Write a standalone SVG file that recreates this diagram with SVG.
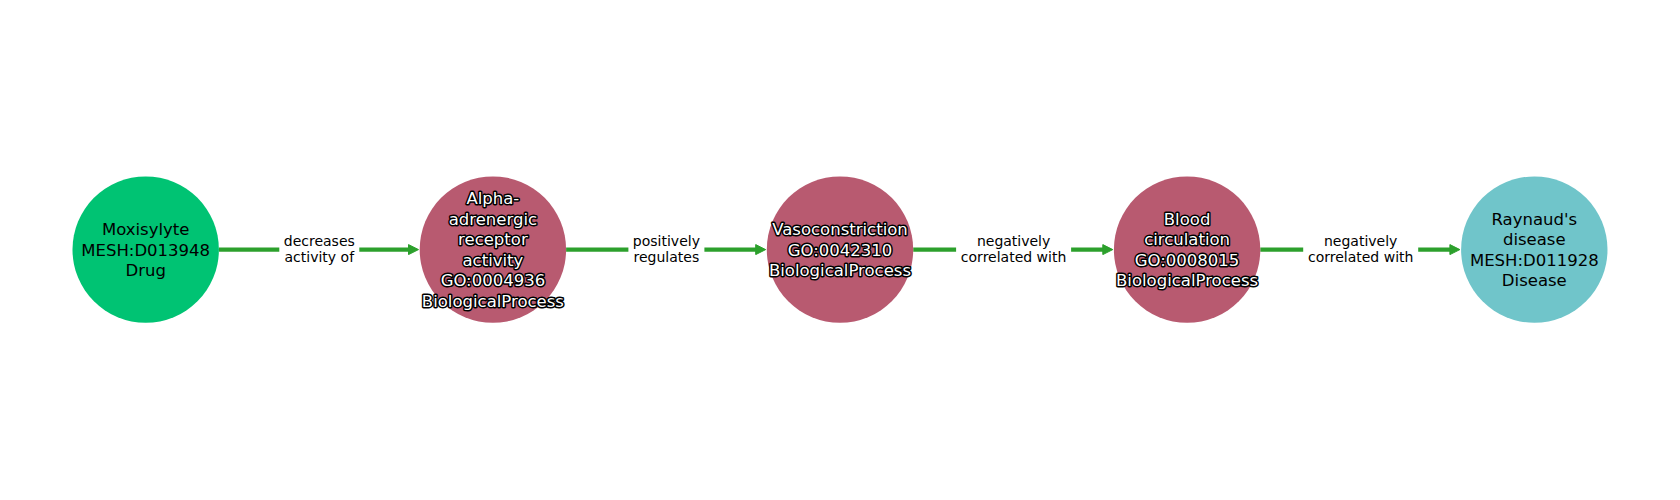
<svg xmlns="http://www.w3.org/2000/svg" width="1680" height="500" viewBox="0 0 1680 500">
<defs>
<style>
.nl{font-family:"DejaVu Sans",sans-serif;font-size:16.5px;text-anchor:middle;fill:#000}
.nw{font-family:"DejaVu Sans",sans-serif;font-size:16.5px;text-anchor:middle;fill:#fff;stroke:#000;stroke-width:3px;stroke-linejoin:round;paint-order:stroke}
.el{font-family:"DejaVu Sans",sans-serif;font-size:14px;text-anchor:middle;fill:#000}
.edge{stroke:#2ca02c;stroke-width:4.3;fill:none}
.bg{fill:#fff}
</style>
<marker id="arr" viewBox="0 0 11 11" refX="5" refY="5.5" markerWidth="11" markerHeight="11" orient="auto" markerUnits="userSpaceOnUse">
<path d="M0.5,0.5 L10.5,5.5 L0.5,10.5 Z" fill="#2ca02c" stroke="#2ca02c" stroke-width="1" stroke-linejoin="round"/>
</marker>
</defs>
<rect width="1680" height="500" fill="#fff"/>
<g id="edges">
<g id="e1"><line class="edge" x1="218.9" y1="249.6" x2="413" y2="249.6" marker-end="url(#arr)"/><rect class="bg" x="279.3" y="232" width="80" height="35"/><text class="el" x="319.3" y="246">decreases</text><text class="el" x="319.3" y="262">activity of</text></g>
<g id="e2"><line class="edge" x1="566.1" y1="249.6" x2="760.2" y2="249.6" marker-end="url(#arr)"/><rect class="bg" x="628.4" y="232" width="76" height="35"/><text class="el" x="666.4" y="246">positively</text><text class="el" x="666.4" y="262">regulates</text></g>
<g id="e3"><line class="edge" x1="913.2" y1="249.6" x2="1107.3" y2="249.6" marker-end="url(#arr)"/><rect class="bg" x="956.1" y="232" width="115" height="35"/><text class="el" x="1013.6" y="246">negatively</text><text class="el" x="1013.6" y="262">correlated with</text></g>
<g id="e4"><line class="edge" x1="1260.3" y1="249.6" x2="1454.4" y2="249.6" marker-end="url(#arr)"/><rect class="bg" x="1303.2" y="232" width="115" height="35"/><text class="el" x="1360.7" y="246">negatively</text><text class="el" x="1360.7" y="262">correlated with</text></g>
</g>
<g id="n1"><circle cx="145.7" cy="249.6" r="73.2" fill="#00c373"/><text class="nl" x="145.7" y="235.1">Moxisylyte</text><text class="nl" x="145.7" y="255.6">MESH:D013948</text><text class="nl" x="145.7" y="276.1">Drug</text></g>
<g id="n2"><circle cx="492.9" cy="249.6" r="73.2" fill="#b85a70"/><text class="nw" x="492.9" y="204.35">Alpha-</text><text class="nw" x="492.9" y="224.85">adrenergic</text><text class="nw" x="492.9" y="245.35">receptor</text><text class="nw" x="492.9" y="265.85">activity</text><text class="nw" x="492.9" y="286.35">GO:0004936</text><text class="nw" x="492.9" y="306.85">BiologicalProcess</text></g>
<g id="n3"><circle cx="840" cy="249.6" r="73.2" fill="#b85a70"/><text class="nw" x="840" y="235.1">Vasoconstriction</text><text class="nw" x="840" y="255.6">GO:0042310</text><text class="nw" x="840" y="276.1">BiologicalProcess</text></g>
<g id="n4"><circle cx="1187.1" cy="249.6" r="73.2" fill="#b85a70"/><text class="nw" x="1187.1" y="224.85">Blood</text><text class="nw" x="1187.1" y="245.35">circulation</text><text class="nw" x="1187.1" y="265.85">GO:0008015</text><text class="nw" x="1187.1" y="286.35">BiologicalProcess</text></g>
<g id="n5"><circle cx="1534.3" cy="249.6" r="73.2" fill="#70c5ca"/><text class="nl" x="1534.3" y="224.85">Raynaud's</text><text class="nl" x="1534.3" y="245.35">disease</text><text class="nl" x="1534.3" y="265.85">MESH:D011928</text><text class="nl" x="1534.3" y="286.35">Disease</text></g>
</svg>
